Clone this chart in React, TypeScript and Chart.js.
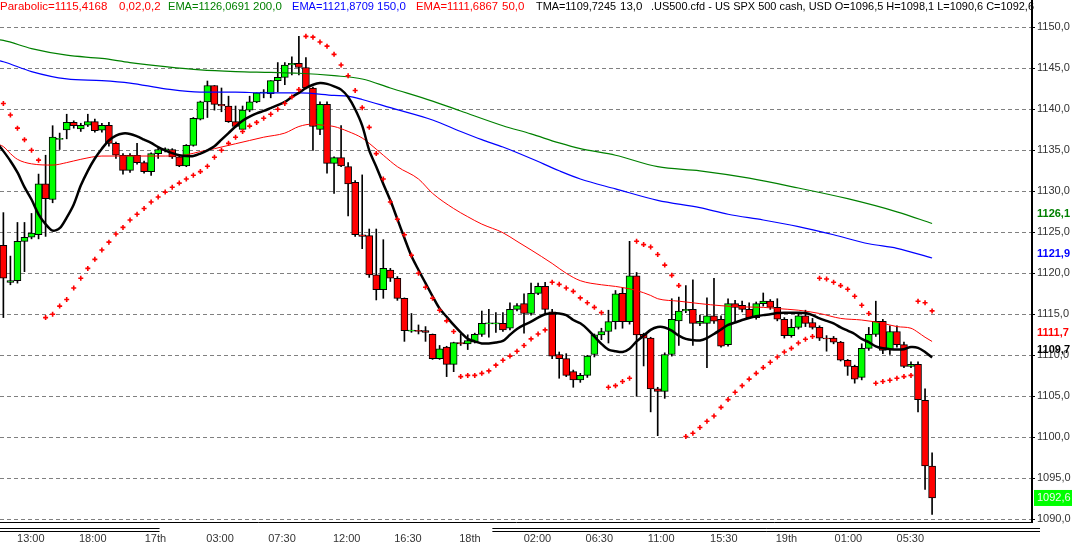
import { useEffect, useRef } from 'react';
import { Chart, registerables } from 'chart.js';

Chart.register(...registerables);

// ---- .US500.cfd, 30-minute bars ----
const opens = [
  1123.4, 1118.9, 1119.1, 1123.9, 1124.4, 1124.7, 1130.9, 1129.0, 1136.4, 1137.5,
  1138.4, 1137.6, 1138.05, 1138.5, 1137.45, 1138.05, 1135.85, 1134.4, 1132.55, 1134.4,
  1133.5, 1132.4, 1134.6, 1135.1, 1135.1, 1134.2, 1133.1, 1135.6, 1138.8, 1140.9,
  1142.9, 1140.6, 1140.4, 1138.5, 1137.55, 1139.9, 1140.9, 1142.0, 1141.9, 1143.5,
  1143.9, 1145.4, 1145.6, 1145.1, 1142.6, 1137.55, 1140.6, 1133.4, 1134.1, 1133.0,
  1131.1, 1124.7, 1124.6, 1119.8, 1118.0, 1120.4, 1119.4, 1116.95, 1113.0, 1113.0,
  1113.0, 1112.55, 1109.6, 1111.0, 1108.9, 1111.55, 1111.4, 1111.6, 1112.55, 1113.9,
  1113.9, 1113.9, 1113.3, 1115.6, 1116.3, 1115.1, 1117.55, 1118.4, 1115.3, 1110.1,
  1109.6, 1108.0, 1107.0, 1107.55, 1110.1, 1112.5, 1112.9, 1114.1, 1117.55, 1114.1,
  1119.7, 1112.55, 1112.1, 1105.9, 1105.6, 1110.1, 1114.2, 1115.4, 1115.6, 1113.9,
  1113.9, 1114.8, 1114.4, 1111.3, 1116.3, 1116.1, 1115.6, 1114.6, 1116.3, 1116.6,
  1115.85, 1114.4, 1112.4, 1113.4, 1114.8, 1114.0, 1113.4, 1112.1, 1112.1, 1111.6,
  1109.4, 1108.65, 1107.3, 1110.85, 1112.55, 1114.15, 1110.7, 1112.9, 1111.3, 1108.65,
  1108.9, 1104.5, 1096.5,
];
const highs = [
  1127.4, 1122.1, 1126.2, 1126.2, 1127.3, 1132.1, 1134.4, 1138.0, 1137.1, 1139.4,
  1138.6, 1138.3, 1139.4, 1138.8, 1138.3, 1138.4, 1136.0, 1134.6, 1134.6, 1135.85,
  1133.7, 1134.7, 1135.4, 1135.3, 1135.2, 1134.3, 1135.7, 1139.0, 1141.0, 1143.45,
  1142.9, 1142.6, 1141.6, 1140.4, 1140.4, 1141.6, 1142.0, 1142.4, 1143.5, 1145.7,
  1145.7, 1146.4, 1148.9, 1146.3, 1142.7, 1140.9, 1140.9, 1134.2, 1138.0, 1133.5,
  1131.3, 1132.0, 1125.4, 1125.4, 1124.1, 1120.6, 1119.6, 1117.0, 1115.1, 1113.7,
  1113.5, 1112.6, 1111.2, 1111.1, 1111.6, 1112.6, 1112.5, 1112.7, 1115.4, 1115.6,
  1115.2, 1115.2, 1116.4, 1116.3, 1117.5, 1118.8, 1118.8, 1118.9, 1115.6, 1110.4,
  1110.2, 1108.2, 1107.8, 1110.0, 1112.6, 1113.3, 1115.5, 1117.9, 1118.2, 1123.9,
  1120.1, 1112.7, 1112.2, 1106.1, 1110.3, 1116.9, 1117.1, 1118.5, 1119.2, 1114.9,
  1117.0, 1119.4, 1114.8, 1116.9, 1116.7, 1116.6, 1116.4, 1116.5, 1117.6, 1116.8,
  1116.9, 1114.6, 1114.4, 1115.1, 1115.5, 1114.5, 1113.6, 1112.4, 1112.3, 1111.7,
  1109.5, 1108.8, 1111.4, 1113.4, 1116.6, 1114.4, 1113.6, 1113.6, 1111.6, 1109.2,
  1109.2, 1105.9, 1098.1,
];
const lows = [
  1114.6, 1118.6, 1118.8, 1120.2, 1124.2, 1124.2, 1124.5, 1128.6, 1135.1, 1136.4,
  1137.7, 1137.3, 1137.9, 1137.2, 1137.2, 1135.5, 1134.0, 1132.1, 1132.3, 1133.3,
  1132.2, 1131.95, 1134.0, 1134.8, 1134.0, 1133.0, 1133.0, 1135.5, 1138.7, 1139.0,
  1139.9, 1139.7, 1138.4, 1137.8, 1137.5, 1139.7, 1140.8, 1141.4, 1141.4, 1142.15,
  1143.0, 1144.2, 1144.2, 1142.5, 1135.0, 1136.9, 1132.2, 1129.75, 1133.0, 1127.0,
  1124.5, 1123.0, 1119.5, 1116.75, 1116.95, 1119.0, 1116.7, 1111.7, 1112.8, 1112.6,
  1111.7, 1109.5, 1109.5, 1107.4, 1108.0, 1111.2, 1110.7, 1111.5, 1112.3, 1112.2,
  1112.8, 1112.9, 1113.1, 1115.4, 1112.7, 1114.9, 1117.4, 1115.0, 1109.6, 1107.2,
  1107.4, 1106.1, 1106.7, 1107.3, 1109.8, 1111.9, 1111.5, 1113.2, 1113.3, 1113.8,
  1105.0, 1108.7, 1103.1, 1100.2, 1104.75, 1109.9, 1111.2, 1115.2, 1111.2, 1113.6,
  1108.5, 1113.9, 1111.0, 1111.1, 1114.1, 1115.3, 1114.5, 1114.4, 1116.0, 1115.6,
  1114.2, 1112.1, 1112.2, 1113.2, 1113.5, 1113.2, 1111.8, 1110.5, 1111.4, 1109.3,
  1107.55, 1106.6, 1107.0, 1110.6, 1112.3, 1110.2, 1110.1, 1111.0, 1108.5, 1108.5,
  1103.1, 1093.65, 1090.6,
];
const closes = [
  1119.4, 1119.1, 1123.9, 1124.4, 1124.9, 1130.9, 1129.1, 1136.6, 1136.4, 1138.4,
  1138.0, 1138.05, 1138.5, 1137.4, 1138.05, 1135.85, 1134.4, 1132.55, 1134.4, 1133.5,
  1132.4, 1134.6, 1135.1, 1135.1, 1134.2, 1133.1, 1135.6, 1138.9, 1140.9, 1142.9,
  1140.6, 1140.4, 1138.5, 1137.9, 1139.9, 1140.9, 1142.0, 1142.1, 1143.5, 1143.9,
  1145.4, 1145.6, 1145.1, 1142.6, 1137.9, 1140.6, 1133.4, 1134.1, 1133.1, 1130.9,
  1124.7, 1124.5, 1119.8, 1118.0, 1120.6, 1119.4, 1116.95, 1113.0, 1113.0, 1112.95,
  1112.8, 1109.6, 1110.8, 1108.9, 1111.55, 1111.4, 1111.8, 1112.55, 1113.9, 1113.9,
  1113.9, 1113.1, 1115.6, 1116.05, 1115.1, 1117.55, 1118.4, 1115.6, 1109.9, 1109.6,
  1107.55, 1107.0, 1107.55, 1109.9, 1112.5, 1112.9, 1114.1, 1117.5, 1114.1, 1119.7,
  1112.5, 1112.1, 1105.9, 1105.6, 1110.1, 1114.4, 1115.4, 1115.6, 1113.9, 1114.15,
  1114.8, 1114.15, 1111.1, 1116.3, 1115.85, 1115.6, 1114.6, 1116.3, 1116.6, 1115.85,
  1114.4, 1112.4, 1113.4, 1114.8, 1113.9, 1113.4, 1112.1, 1112.0, 1111.6, 1109.4,
  1108.65, 1107.1, 1110.85, 1112.55, 1114.15, 1110.6, 1112.9, 1111.3, 1108.65, 1108.9,
  1104.6, 1096.5, 1092.6,
];

// Parabolic SAR (step 0.02, max 0.2), one value per bar
const sarStep = 0.02;
const sarMax = 0.2;
const sar = [
  1140.7, 1139.3, 1137.7, 1136.3, 1135.0, 1133.8, 1114.6, 1115.0, 1116.0, 1116.8,
  1118.2, 1119.4, 1120.6, 1121.7, 1122.85, 1123.8, 1124.8, 1125.6, 1126.5, 1127.2,
  1127.9, 1128.7, 1129.3, 1129.9, 1130.5, 1131.0, 1131.5, 1131.95, 1132.4, 1133.05,
  1134.15, 1135.0, 1135.85, 1136.6, 1137.3, 1137.95, 1138.4, 1138.9, 1139.4, 1140.0,
  1140.7, 1141.5, 1142.4, 1148.9, 1148.8, 1148.2, 1147.7, 1146.7, 1145.4, 1144.1,
  1142.3, 1140.2, 1137.8, 1134.6, 1131.5, 1128.7, 1126.6, 1124.7, 1122.2, 1120.0,
  1118.3, 1116.95, 1115.5, 1114.2, 1112.9, 1107.4, 1107.55, 1107.55, 1107.8, 1108.1,
  1108.8, 1109.4, 1109.9, 1110.5, 1111.2, 1112.0, 1112.6, 1113.1, 1118.9, 1118.65,
  1118.2, 1117.8, 1117.0, 1116.4, 1115.85, 1115.2, 1106.1, 1106.3, 1106.8, 1107.2,
  1123.9, 1123.5, 1123.2, 1122.3, 1121.0, 1119.75, 1118.5, 1100.1, 1100.5, 1101.2,
  1101.95, 1102.6, 1103.65, 1104.6, 1105.5, 1106.3, 1107.1, 1107.8, 1108.5, 1109.15,
  1109.8, 1110.4, 1110.85, 1111.5, 1111.95, 1112.3, 1119.4, 1119.3, 1118.9, 1118.5,
  1118.05, 1117.2, 1116.1, 1115.1, 1106.6, 1106.8, 1106.95, 1107.2, 1107.4, 1107.55,
  1116.6, 1116.4, 1115.4168,
];

// Moving averages, sampled at bar indices (bar -1 lies just left of the view)
const ema200Period = 200;
const ema200Bars = [-1, 0, 4, 9, 14, 18, 23, 28, 33, 38, 42, 47, 51, 55, 61, 65, 71, 75, 79, 82, 87, 93, 99, 106, 113, 120, 127, 132];
const ema200Values = [
  1148.5, 1148.4, 1147.4, 1146.6, 1146.2, 1145.7, 1145.2, 1144.8, 1144.6, 1144.5,
  1144.4, 1144.1, 1143.7, 1142.6, 1141.0, 1139.8, 1138.0, 1137.0, 1135.9, 1135.2,
  1134.4, 1133.0, 1132.5, 1131.6, 1130.4, 1129.1, 1127.5, 1126.0691,
];

const ema150Period = 150;
const ema150Bars = [-1, 0, 4, 9, 14, 18, 23, 28, 33, 37, 42, 47, 49, 51, 55, 61, 65, 68, 71, 75, 79, 82, 87, 93, 99, 103, 108, 113, 118, 123, 127, 132];
const ema150Values = [
  1146.0, 1145.8, 1144.6, 1143.7, 1143.5, 1143.2, 1142.5, 1142.1, 1142.1, 1142.0,
  1142.0, 1141.7, 1141.6, 1141.2, 1140.2, 1138.7, 1137.3, 1136.3, 1135.4, 1134.0,
  1132.5, 1131.5, 1130.3, 1128.9, 1128.0, 1127.2, 1126.5, 1125.7, 1124.7, 1123.6,
  1123.05, 1121.8709,
];

const ema50Period = 50;
const ema50Bars = [-1, 0, 1, 2, 4, 7, 9, 11, 14, 18, 23, 26, 28, 30, 33, 35, 37, 40, 42, 44, 45, 47, 49, 51, 52, 54, 56, 59, 61, 64, 66, 68, 71, 73, 75, 78, 80, 82, 85, 87, 90, 92, 93, 96, 99, 102, 105, 108, 110, 113, 116, 119, 122, 125, 127, 129, 130, 131, 132];
const ema50Values = [
  1135.8, 1135.45, 1134.6, 1133.9, 1133.35, 1133.2, 1133.5, 1133.9, 1134.3, 1134.3,
  1134.3, 1134.45, 1134.85, 1135.2, 1135.8, 1136.2, 1136.6, 1137.1, 1137.9, 1138.2,
  1138.1, 1137.9, 1137.3, 1136.5, 1135.85, 1134.4, 1133.0, 1131.5, 1129.75, 1127.9,
  1126.9, 1126.0, 1124.95, 1123.9, 1122.85, 1121.2, 1120.0, 1119.1, 1118.6, 1118.4,
  1117.9, 1117.3, 1116.9, 1116.6, 1116.3, 1116.05, 1115.9, 1115.85, 1115.7, 1115.5,
  1115.1, 1114.5, 1114.3, 1113.9, 1113.5, 1113.3, 1112.8, 1112.2, 1111.6867,
];

// Triangular MA (13), one value per bar starting at bar -1
const tmaPeriod = 13;
const tmaValues = [
  1136.0,
  1134.9, 1133.7, 1132.3, 1130.5, 1129.0, 1127.2, 1126.0, 1125.2, 1125.5, 1126.8,
  1128.4, 1130.7, 1132.5, 1134.0, 1135.2, 1136.2, 1136.8, 1137.05, 1137.0, 1136.7,
  1136.3, 1135.9, 1135.4, 1135.0, 1134.65, 1134.4, 1134.3, 1134.3, 1134.6, 1135.0,
  1135.5, 1136.3, 1137.1, 1137.9, 1138.6, 1139.1, 1139.5, 1139.8, 1140.15, 1140.5,
  1140.9, 1141.5, 1142.0, 1142.6, 1143.0, 1143.2, 1143.1, 1142.8, 1142.4, 1141.5,
  1140.0, 1138.0, 1135.0, 1133.0, 1130.9, 1128.9, 1126.6, 1124.3, 1122.1, 1120.4,
  1118.8, 1117.2, 1115.7, 1114.7, 1113.7, 1112.8, 1112.0, 1111.7, 1111.45, 1111.45,
  1111.55, 1111.75, 1112.5, 1113.2, 1113.7, 1114.1, 1114.6, 1115.0, 1115.1, 1115.1,
  1114.9, 1114.3, 1113.9, 1113.2, 1112.3, 1111.4, 1110.7, 1110.5, 1110.4, 1110.8,
  1111.7, 1112.4, 1113.1, 1113.45, 1113.4, 1113.0, 1112.4, 1112.0, 1111.85, 1111.8,
  1112.1, 1112.6, 1113.15, 1113.7, 1114.0, 1114.3, 1114.55, 1114.75, 1114.9, 1115.0,
  1115.15, 1115.2, 1115.2, 1115.2, 1115.15, 1114.9, 1114.5, 1114.2, 1113.9, 1113.4,
  1113.0, 1112.6, 1112.0, 1111.6, 1111.1, 1110.85, 1110.75, 1110.7, 1110.75, 1111.0,
  1110.9, 1110.4, 1109.7245,
];

// Time axis labels and the bar positions they sit at
const timeLabels = ['13:00', '18:00', '17th', '03:00', '07:30', '12:00', '16:30', '18th', '02:00', '06:30', '11:00', '15:30', '19th', '01:00', '05:30'];
const timeLabelBars = [3.9, 12.7, 21.6, 30.8, 39.6, 48.8, 57.5, 66.3, 75.9, 84.7, 93.5, 102.4, 111.3, 120.1, 128.9];
// Bar ranges of the days marked with a double rule under the time axis
const markedDays = [[-1, 22.2], [69.5, 148]];

const priceTicks = [1090, 1095, 1100, 1105, 1110, 1115, 1120, 1125, 1130, 1135, 1140, 1145, 1150];

const symbolText = '.US500.cfd - US SPX 500 cash, USD';

const BULL = '#00ff00';
const BEAR = '#ff0000';
const FONT = '"Liberation Sans", Arial, sans-serif';

const comma = (v: number, d: number) => v.toFixed(d).replace('.', ',');
const last = <T,>(a: T[]) => a[a.length - 1];

const barIdx = opens.map((_, i) => i);

const overlay = {
  id: 'overlay',
  afterDraw(chart: any) {
    const { ctx, chartArea, scales } = chart;
    const xs = scales.x;
    const ys = scales.y;
    const n = closes.length - 1;
    ctx.save();

    // indicator / symbol header
    const header: [string, string, number, number | undefined][] = [
      [`Parabolic=${comma(last(sar), 4)}`, '#ff0000', 0, 116],
      [`${comma(sarStep, 2)},${comma(sarMax, 1)}`, '#ff0000', 119, undefined],
      [`EMA=${comma(last(ema200Values), 4)}`, '#008000', 168, 82],
      [comma(ema200Period, 1), '#008000', 253, undefined],
      [`EMA=${comma(last(ema150Values), 4)}`, '#0000ff', 292, 82],
      [comma(ema150Period, 1), '#0000ff', 377, undefined],
      [`EMA=${comma(last(ema50Values), 4)}`, '#ff0000', 416, 82],
      [comma(ema50Period, 1), '#ff0000', 502, undefined],
      [`TMA=${comma(last(tmaValues), 4)}`, '#000000', 536, 80],
      [comma(tmaPeriod, 1), '#000000', 620, undefined],
      [`${symbolText} O=${comma(opens[n], 1)} H=${comma(highs[n], 1)} L=${comma(lows[n], 1)} C=${comma(closes[n], 1)}`, '#000000', 651, 383],
    ];
    ctx.font = `11.5px ${FONT}`;
    ctx.textBaseline = 'middle';
    ctx.textAlign = 'left';
    for (const [t, c, x, w] of header) {
      ctx.fillStyle = c;
      if (w === undefined) ctx.fillText(t, x, 7);
      else ctx.fillText(t, x, 7, w);
    }

    // last-value tags on the price axis
    const tx = chartArea.right + 5;
    const tags: [number, string, number][] = [
      [last(ema200Values), '#008000', -10],
      [last(ema150Values), '#0000ff', -4],
      [last(ema50Values), '#ff0000', -8],
      [last(tmaValues), '#000000', -8],
    ];
    ctx.font = `bold 11px ${FONT}`;
    for (const [v, c, dy] of tags) {
      ctx.fillStyle = c;
      ctx.fillText(comma(v, 1), tx, ys.getPixelForValue(v) + dy);
    }
    const yc = ys.getPixelForValue(closes[n]);
    ctx.fillStyle = BULL;
    ctx.fillRect(chartArea.right + 2, yc - 8, 38, 16);
    ctx.font = `11px ${FONT}`;
    ctx.fillStyle = '#f4f4f4';
    ctx.fillText(comma(closes[n], 1), tx, yc);

    // day markers under the time axis
    ctx.strokeStyle = '#000';
    ctx.lineWidth = 1;
    for (const [a, b] of markedDays) {
      const xa = Math.max(xs.getPixelForValue(a), 0);
      const xb = Math.min(xs.getPixelForValue(b), chartArea.right + 8);
      for (const dy of [6.5, 9.5]) {
        ctx.beginPath();
        ctx.moveTo(xa, chartArea.bottom + dy);
        ctx.lineTo(xb, chartArea.bottom + dy);
        ctx.stroke();
      }
    }
    ctx.restore();
  },
};

export default function App() {
  const ref = useRef<HTMLCanvasElement>(null);

  useEffect(() => {
    document.body.style.margin = '0';
    const canvas = ref.current;
    if (!canvas) return;

    const bodies = barIdx.map((i) => {
      const lo = Math.min(opens[i], closes[i]);
      const hi = Math.max(opens[i], closes[i]);
      const mid = (lo + hi) / 2;
      return hi - lo < 0.13 ? { x: i, y: [mid - 0.065, mid + 0.065] } : { x: i, y: [lo, hi] };
    });

    const chart = new Chart(canvas, {
      type: 'bar',
      data: {
        datasets: [
          {
            type: 'line',
            label: 'Parabolic SAR',
            data: barIdx.map((i) => ({ x: i, y: sar[i] })),
            showLine: false,
            pointStyle: 'cross',
            pointRadius: 2.5,
            pointBorderWidth: 1.6,
            pointBorderColor: '#ff0000',
            pointBackgroundColor: '#ff0000',
            order: 0,
          },
          {
            type: 'line',
            label: 'TMA 13',
            data: tmaValues.map((v, k) => ({ x: k - 1, y: v })),
            borderColor: '#000000',
            borderWidth: 2.5,
            pointRadius: 0,
            tension: 0.3,
            order: 1,
          },
          {
            type: 'line',
            label: 'EMA 50',
            data: ema50Bars.map((b, k) => ({ x: b, y: ema50Values[k] })),
            borderColor: '#ff0000',
            borderWidth: 1,
            pointRadius: 0,
            cubicInterpolationMode: 'monotone',
            order: 2,
          },
          {
            type: 'line',
            label: 'EMA 150',
            data: ema150Bars.map((b, k) => ({ x: b, y: ema150Values[k] })),
            borderColor: '#0000ff',
            borderWidth: 1.2,
            pointRadius: 0,
            cubicInterpolationMode: 'monotone',
            order: 2,
          },
          {
            type: 'line',
            label: 'EMA 200',
            data: ema200Bars.map((b, k) => ({ x: b, y: ema200Values[k] })),
            borderColor: '#008000',
            borderWidth: 1.2,
            pointRadius: 0,
            cubicInterpolationMode: 'monotone',
            order: 2,
          },
          {
            type: 'bar',
            label: 'body',
            data: bodies as any,
            backgroundColor: barIdx.map((i) => (closes[i] >= opens[i] ? BULL : BEAR)),
            borderColor: '#000000',
            borderWidth: 1,
            borderSkipped: false,
            barThickness: 7,
            grouped: false,
            order: 3,
          },
          {
            type: 'bar',
            label: 'wick',
            data: barIdx.map((i) => ({ x: i, y: [lows[i], highs[i]] })) as any,
            backgroundColor: '#000000',
            borderWidth: 0,
            barThickness: 1,
            grouped: false,
            order: 4,
          },
        ],
      },
      options: {
        animation: false,
        responsive: false,
        devicePixelRatio: 1,
        layout: { padding: 0, autoPadding: false },
        plugins: {
          legend: { display: false },
          tooltip: { enabled: false },
          title: { display: false },
        },
        scales: {
          x: {
            type: 'linear',
            min: -0.48,
            max: 146.2,
            offset: false,
            grid: { display: false, drawTicks: false },
            border: { display: true, color: '#000', width: 1 },
            ticks: {
              autoSkip: false,
              maxRotation: 0,
              minRotation: 0,
              padding: 10,
              color: '#333',
              font: { family: FONT, size: 11 },
              callback: (_v: any, i: number) => timeLabels[i],
            },
            afterBuildTicks: (s: any) => {
              s.ticks = timeLabelBars.map((v) => ({ value: v }));
            },
            afterFit: (s: any) => {
              s.height = 34;
              s.paddingLeft = 0;
              s.paddingRight = 0;
            },
          },
          y: {
            type: 'linear',
            position: 'right',
            min: 1089.67,
            max: 1153.33,
            grid: {
              color: '#808080',
              lineWidth: 1,
              drawTicks: true,
              tickLength: 3,
              tickColor: '#000',
              tickWidth: 1,
            },
            border: { display: true, color: '#000', width: 2, dash: [4, 3] },
            ticks: {
              padding: 2,
              color: '#333',
              font: { family: FONT, size: 11 },
              callback: (v: any) => comma(Number(v), 1),
            },
            afterBuildTicks: (s: any) => {
              s.ticks = priceTicks.map((v) => ({ value: v }));
            },
            afterFit: (s: any) => {
              s.width = 44;
              s.paddingTop = 0;
              s.paddingBottom = 0;
            },
          },
        },
      } as any,
      plugins: [overlay],
    });

    return () => chart.destroy();
  }, []);

  return (
    <div style={{ width: 1076, height: 556, background: '#ffffff' }}>
      <canvas ref={ref} width={1076} height={556} style={{ display: 'block' }} />
    </div>
  );
}
